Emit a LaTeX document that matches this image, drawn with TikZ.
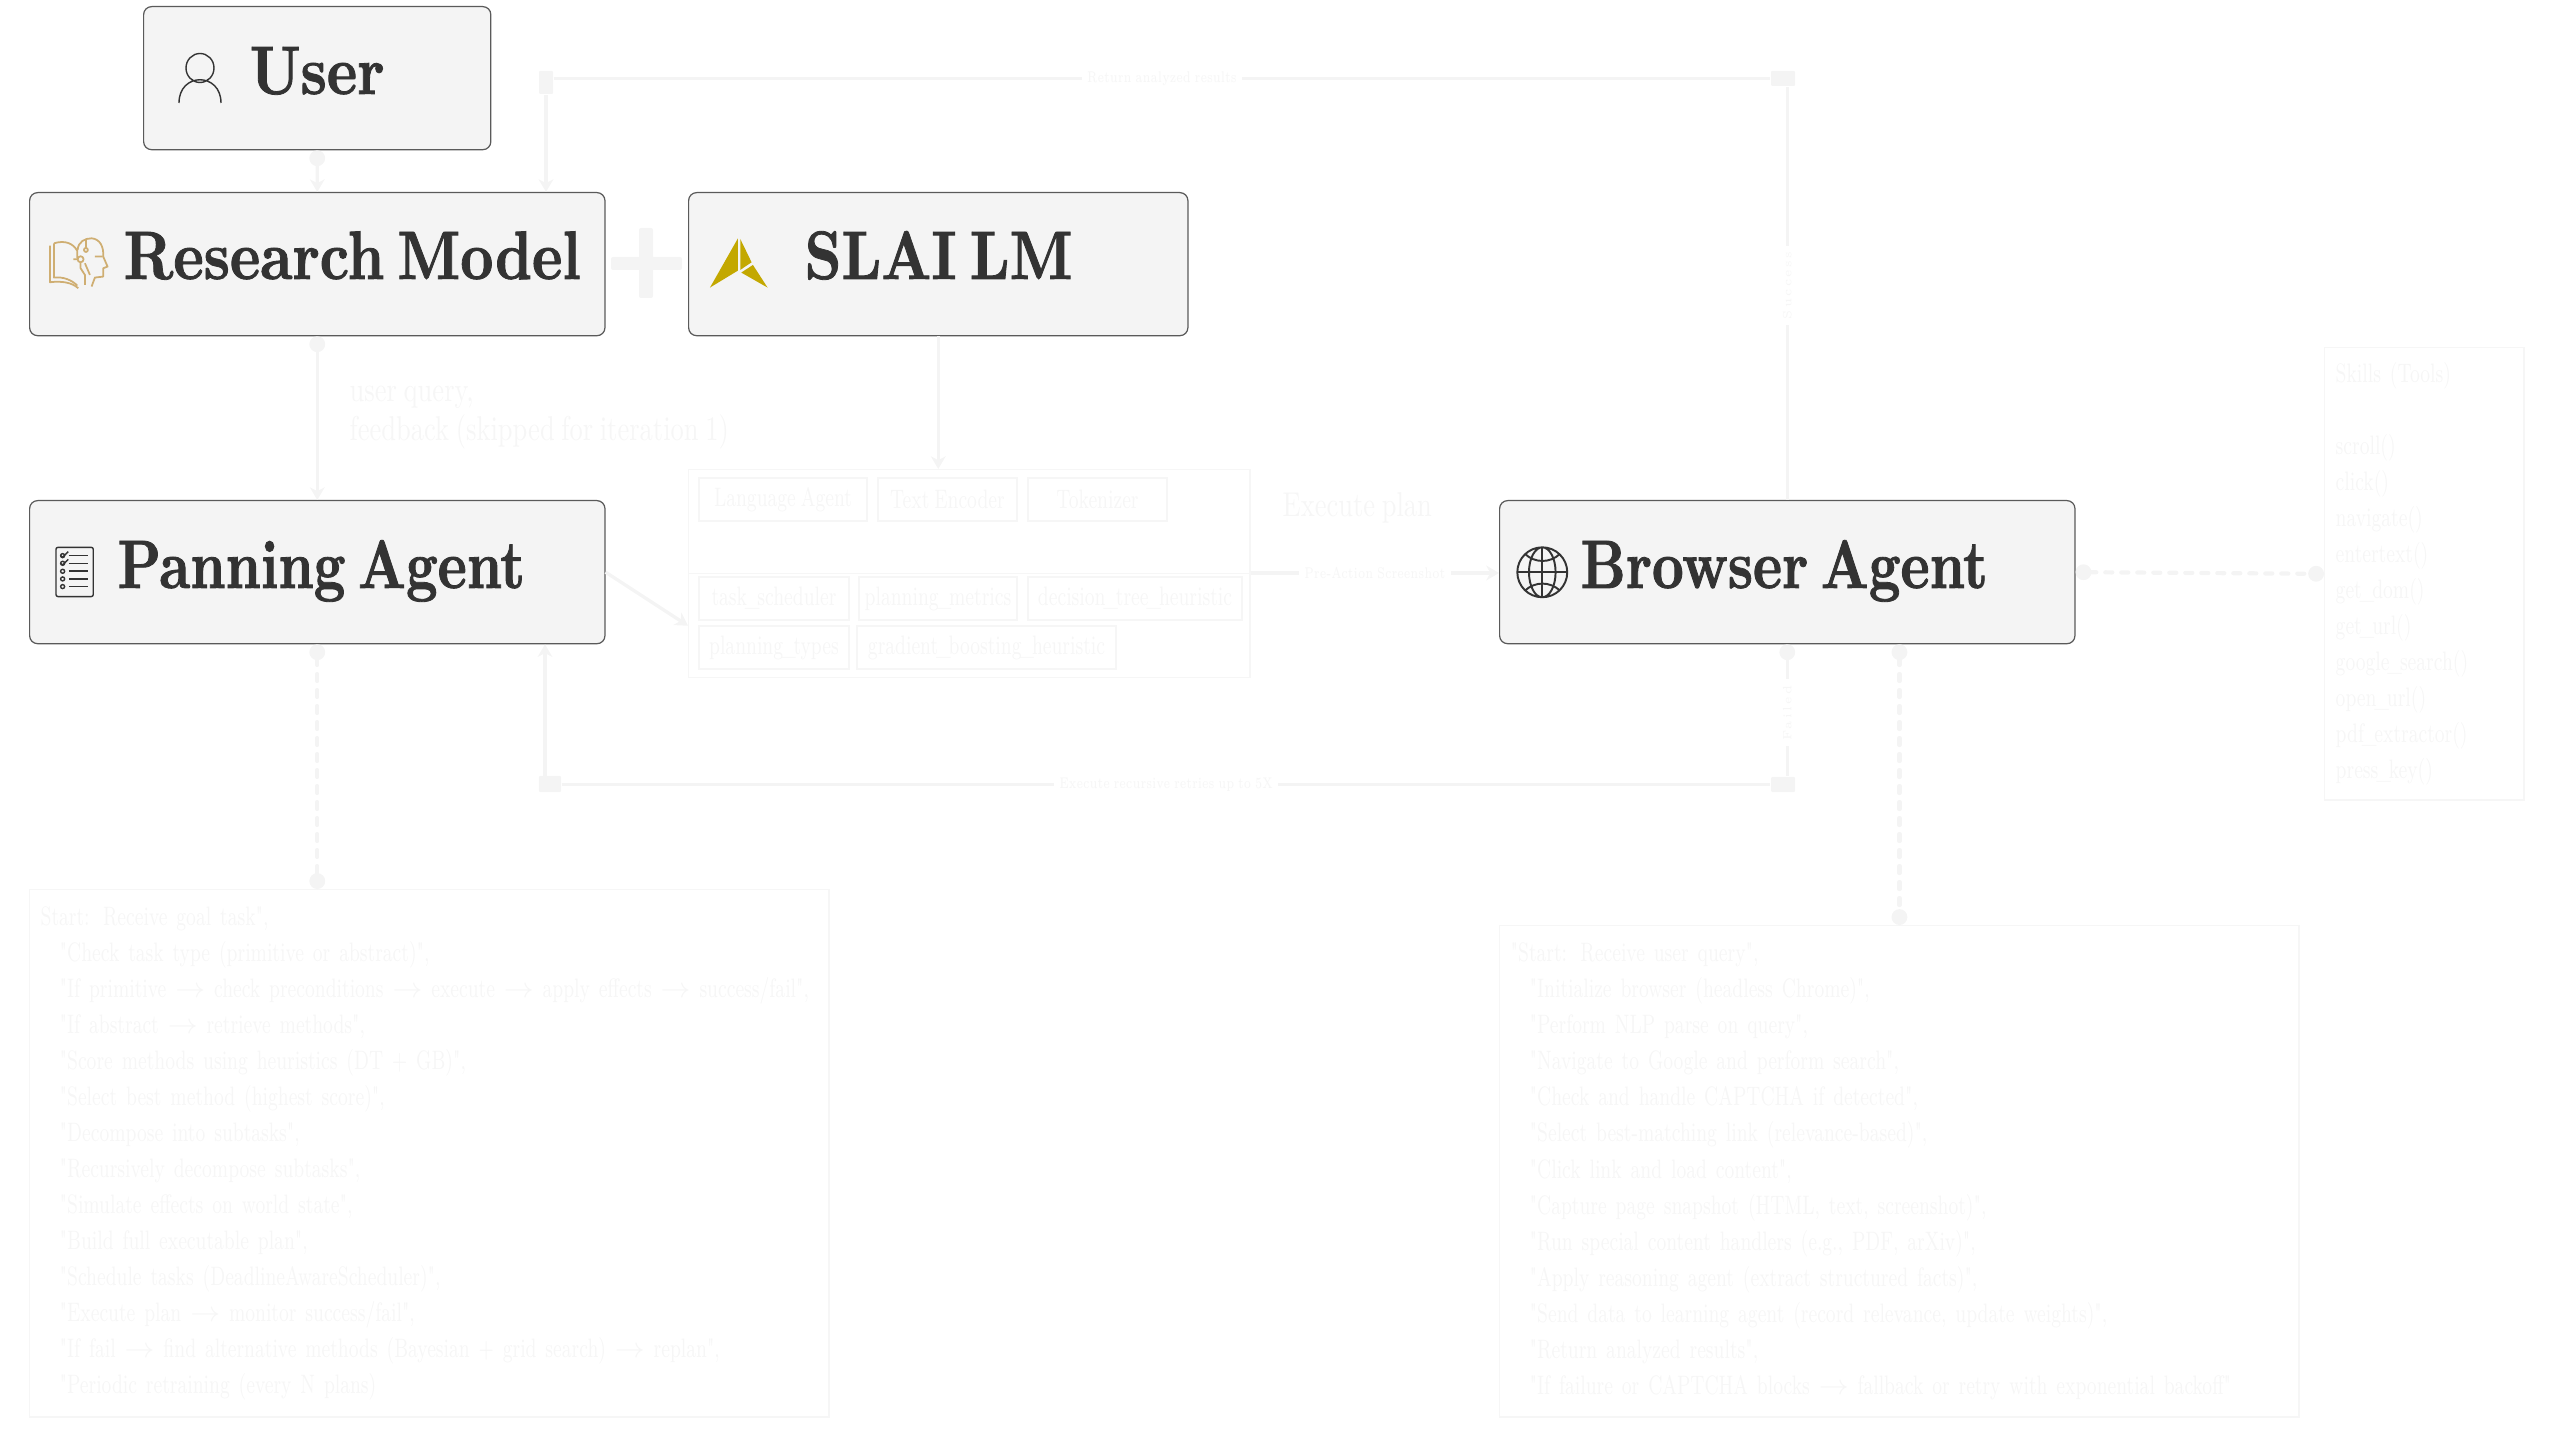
\documentclass[tikz,border=0pt]{standalone}
\usepackage{fontspec}
\usetikzlibrary{arrows.meta}
\newfontfamily\titlefont[FakeStretch=.84,WordSpace=.6,FakeBold=1.2]{lmroman10-bold.otf}
\newfontfamily\agentfont[FakeStretch=.805,WordSpace=.6,FakeBold=1.2]{lmroman10-bold.otf}
\newfontfamily\bodyfont[FakeStretch=.69,WordSpace=.75]{Latin Modern Roman}
\newfontfamily\labelfont[FakeStretch=.77,WordSpace=.75]{Latin Modern Roman}
\newfontfamily\spacedfont[LetterSpace=20]{Latin Modern Roman}
\definecolor{boxfill}{HTML}{F4F4F4}
\definecolor{boxedge}{HTML}{5A5A5A}
\definecolor{faint}{HTML}{F6F6F6}
\definecolor{ink}{HTML}{333333}
\definecolor{gold}{HTML}{C3A800}
\definecolor{sand}{HTML}{CFAE72}
\newcommand{\toarrow}{$\rightarrow$}
\newcommand{\ind}{\hspace*{.19cm}}
\newcommand{\us}{\kern-.08em\_\kern-.08em}
\tikzset{
  bigbox/.style={draw=boxedge,fill=boxfill,rounded corners=.08cm,line width=.35pt,
    minimum height=1.43cm,inner sep=0pt,anchor=north west},
  bigtitle/.style={anchor=base west,inner sep=0pt,text=ink,font=\titlefont\fontsize{19.5}{20}\selectfont},
  agenttitle/.style={bigtitle,font=\agentfont\fontsize{19.5}{20}\selectfont},
  panel/.style={draw=faint,line width=.4pt,anchor=north west,inner sep=0pt,text=faint},
  flowtext/.style={panel,align=left,inner xsep=.11cm,inner ysep=.06cm,
    font=\bodyfont\fontsize{7.6}{10.25}\selectfont},
  chip/.style={panel,anchor=center,minimum height=.43cm,font=\bodyfont\fontsize{7.6}{9}\selectfont},
  flow/.style={draw=boxfill,line width=.95pt,-{Stealth[length=3.6pt,width=4.2pt,inset=1.1pt]}},
  dotted flow/.style={draw=boxfill,line width=.95pt},
  dotends/.style={draw=boxfill,line width=1.2pt,line cap=round,dash pattern=on 2pt off 2.55pt,
    {Circle[length=4.5pt]}-{Circle[length=4.5pt]}},
  elbow/.style={fill=boxfill,inner sep=0pt,rounded corners=.01cm},
  edgelabel/.style={fill=white,text=faint,inner sep=1.5pt,font=\bodyfont\fontsize{4.4}{5}\selectfont},
  vertlabel/.style={fill=white,text=faint,rotate=90,inner xsep=1.7pt,inner ysep=1pt,font=\spacedfont\fontsize{3.4}{4}\selectfont},
  sidelabel/.style={anchor=base west,inner sep=0pt,text=faint,font=\labelfont\fontsize{9.8}{10}\selectfont}
}
\begin{document}
\begin{tikzpicture}[x=.01cm,y=-.01cm]
\useasboundingbox (0,0) rectangle (2560,1440);
% main boxes
\node[bigbox,minimum width=3.47cm] (user) at (143,6) {};
\node[bigbox,minimum width=5.75cm] (research) at (29,192) {};
\node[bigbox,minimum width=4.99cm] (slai) at (688,192) {};
\node[bigbox,minimum width=5.75cm] (planning) at (29,500) {};
\node[bigbox,minimum width=5.75cm] (browser) at (1499,500) {};
\node[bigtitle] (usertitle) at (249,94) {User};
\node[bigtitle] (researchtitle) at (123,279) {Research Model};
\node[bigtitle] (slaititle) at (804,279) {SLAI LM};
\node[agenttitle] (planningtitle) at (117,588) {Panning Agent};
\node[agenttitle] (browsertitle) at (1580,588) {Browser Agent};
% plus sign
\fill[boxfill,rounded corners=.02cm] (639,228) rectangle (653,298);
\fill[boxfill,rounded corners=.02cm] (611,257) rectangle (682,270);
% modules
\node[panel,minimum width=5.61cm,minimum height=1.04cm] (agenttop) at (688,469) {};
\node[panel,minimum width=5.61cm,minimum height=1.04cm] (agentbot) at (688,573) {};
\node[chip,minimum width=1.68cm] (language) at (783,499.5) {Language Agent};
\node[chip,minimum width=1.39cm] (encoder) at (947.5,499.5) {Text Encoder};
\node[chip,minimum width=1.39cm] (tokenizer) at (1097.5,499.5) {Tokenizer};
\node[chip,minimum width=1.50cm] (scheduler) at (774,598.5) {task\us scheduler};
\node[chip,minimum width=1.58cm] (metrics) at (938,598.5) {planning\us metrics};
\node[chip,minimum width=2.14cm] (dtree) at (1135,598.5) {decision\us tree\us heuristic};
\node[chip,minimum width=1.50cm] (types) at (774,647.5) {planning\us types};
\node[chip,minimum width=2.59cm] (gboost) at (986.5,647.5) {gradient\us boosting\us heuristic};
% side panels
\node[flowtext,minimum width=7.99cm,minimum height=5.27cm,text width=7.77cm] (planflow) at (29,889) {%
Start: Receive goal task",\\
\ind"Check task type (primitive or abstract)",\\
\ind"If primitive \toarrow{} check preconditions \toarrow{} execute \toarrow{} apply effects \toarrow{} success/fail",\\
\ind"If abstract \toarrow{} retrieve methods",\\
\ind"Score methods using heuristics (DT + GB)",\\
\ind"Select best method (highest score)",\\
\ind"Decompose into subtasks",\\
\ind"Recursively decompose subtasks",\\
\ind"Simulate effects on world state",\\
\ind"Build full executable plan",\\
\ind"Schedule tasks (DeadlineAwareScheduler)",\\
\ind"Execute plan \toarrow{} monitor success/fail",\\
\ind"If fail \toarrow{} find alternative methods (Bayesian + grid search) \toarrow{} replan",\\
\ind"Periodic retraining (every N plans)};
\node[flowtext,minimum width=7.99cm,minimum height=4.91cm,text width=7.77cm] (browseflow) at (1499,925) {%
"Start: Receive user query",\\
\ind"Initialize browser (headless Chrome)",\\
\ind"Perform NLP parse on query",\\
\ind"Navigate to Google and perform search",\\
\ind"Check and handle CAPTCHA if detected",\\
\ind"Select best-matching link (relevance-based)",\\
\ind"Click link and load content",\\
\ind"Capture page snapshot (HTML, text, screenshot)",\\
\ind"Run special content handlers (e.g., PDF, arXiv)",\\
\ind"Apply reasoning agent (extract structured facts)",\\
\ind"Send data to learning agent (record relevance, update weights)",\\
\ind"Return analyzed results",\\
\ind"If failure or CAPTCHA blocks \toarrow{} fallback or retry with exponential backoff"};
\node[flowtext,minimum width=1.99cm,minimum height=4.52cm,text width=1.77cm] (skills) at (2324,347) {%
Skills (Tools)\\[10.25pt]
scroll()\\ click()\\ navigate()\\ entertext()\\ get\us dom()\\ get\us url()\\
google\us search()\\ open\us url()\\ pdf\us extractor()\\ press\us key()};
% elbows
\node[elbow,minimum width=.14cm,minimum height=.23cm] (returnl) at (546,82.5) {};
\node[elbow,minimum width=.24cm,minimum height=.15cm] (returnr) at (1783,78.5) {};
\node[elbow,minimum width=.22cm,minimum height=.16cm] (retryl) at (550,784) {};
\node[elbow,minimum width=.24cm,minimum height=.15cm] (retryr) at (1783,784.5) {};
\coordinate (retryin) at (545,776);
% connectors
\draw[flow,{Circle[length=4.5pt]}-{Stealth[length=3.6pt,width=4.2pt,inset=1.1pt]}] (user.south) -- (research.north);
\draw[flow,{Circle[length=4.5pt]}-{Stealth[length=3.6pt,width=4.2pt,inset=1.1pt]}] (research.south) -- (planning.north);
\draw[flow] (returnl) -- (returnl |- research.north);
\draw[flow] (slai.south) -- (slai.south |- agenttop.north);
\draw[flow] (planning.east) -- (agentbot.west);
\draw[flow] (agentbot.north east) -- node[edgelabel] (prelabel) {Pre-Action Screenshot} (agentbot.north east -| browser.west);
\draw[flow] (retryin) -- (retryin |- planning.south);
\draw[dotted flow] (returnl.east |- returnr) -- node[edgelabel] (returnlabel) {Return analyzed results} (returnr.west);
\draw[dotted flow] (retryl.east |- retryr) -- node[edgelabel] (retrylabel) {Execute recursive retries up to 5X} (retryr.west);
\draw[dotted flow] (browser.north) -- node[vertlabel,pos=.519] (successlabel) {Success} (browser.north |- returnr.south);
\draw[dotted flow,{Circle[length=4.5pt]}-] (browser.south) -- node[vertlabel,pos=.52] (failedlabel) {Failed} (browser.south |- retryr.north);
\draw[dotends] (browser.east) -- (skills.west);
\draw[dotends] (planning.south) -- (planning.south |- planflow.north);
\draw[dotends] (browseflow.north |- browser.south) -- (browseflow.north);
% labels
\node[sidelabel] (querylabel) at (349,402) {user query,};
\node[sidelabel] (feedlabel) at (349,441) {feedback (skipped for iteration 1)};
\node[sidelabel] (execlabel) at (1282,517) {Execute plan};
% user icon
\draw[ink,line width=.4pt] (200,68) ellipse (14 and 14.5)
  (179,103) .. controls (179,72) and (221,72) .. (221,103);
% book and head icon
\begin{scope}[shift={(40,225)},x=.00333cm,y=-.00333cm,draw=sand,line width=.5pt,line join=round]
\draw (30,62) -- (30,172) .. controls (65,168) and (95,172) .. (115,190);
\draw (42,55) -- (42,158) .. controls (70,155) and (95,165) .. (112,182);
\draw (42,55) .. controls (75,45) and (100,55) .. (112,78) -- (112,100);
\draw (113,75) .. controls (115,50) and (135,40) .. (155,40)
  .. controls (180,42) and (192,65) .. (190,95) -- (203,125) -- (190,130)
  -- (190,155) -- (165,158) -- (155,185);
\draw (138,42) -- (138,72) (138,75) circle (6);
\draw (100,103) -- (112,103) (122,103) circle (9) (122,112) -- (122,130) -- (135,150) -- (135,180);
\draw (135,115) -- (150,150) (165,95) -- (188,95);
\end{scope}
% arrow head icon
\begin{scope}[shift={(700,230)},x=.00333cm,y=-.00333cm]
\fill[gold] (114,25) -- (30,173) -- (114,122) -- cycle;
\fill[gold] (121,27) -- (155,97) -- (121,120) -- cycle;
\fill[gold] (124,128) -- (159,105) -- (203,173) -- cycle;
\end{scope}
% checklist icon
\begin{scope}[shift={(45,540)},x=.00333cm,y=-.00333cm,draw=ink,line width=.4pt]
\draw[rounded corners=.02cm] (33,22) rectangle (145,170);
\foreach \rowy in {47,70,94,117,140} {
  \draw (53,\rowy) circle (6);
  \draw[line width=.45pt] (72,\rowy) -- (130,\rowy);
}
\draw (47,47) -- (53,52) -- (70,35) (47,70) -- (53,75) -- (70,58);
\end{scope}
% globe icon
\begin{scope}[shift={(1510,540)},x=.00333cm,y=-.00333cm,draw=ink,line width=.55pt]
\draw (97,97) circle (75) (97,97) ellipse (40 and 75);
\draw (97,22) -- (97,172) (22,97) -- (172,97);
\draw (45,42) .. controls (75,70) and (120,70) .. (150,42);
\draw (45,152) .. controls (75,124) and (120,124) .. (150,152);
\end{scope}
\end{tikzpicture}
\end{document}
